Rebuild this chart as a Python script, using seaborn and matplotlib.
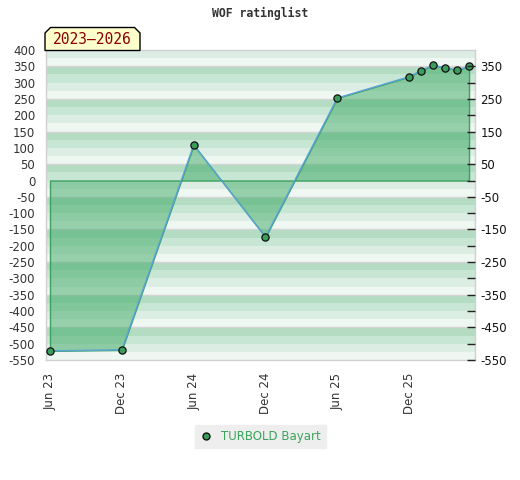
import pandas as pd
import seaborn as sns
import matplotlib.pyplot as plt
from matplotlib.lines import Line2D
from matplotlib.patches import Polygon
from matplotlib.ticker import MultipleLocator, FixedLocator

# -----------------------------------
# DATA
# -----------------------------------

months = ["2023-06", "2023-12", "2024-06", "2024-12", "2025-06",
          "2025-12", "2026-01", "2026-02", "2026-03", "2026-04", "2026-05"]
ratings = [-522, -519, 109, -173, 253, 318, 337, 353, 346, 338, 350]
player = "TURBOLD Bayart"

tick_months = ["2023-06", "2023-12", "2024-06", "2024-12", "2025-06", "2025-12"]
tick_labels = ["Jun 23", "Dec 23", "Jun 24", "Dec 24", "Jun 25", "Dec 25"]

period_label = "2023\u20132026"
title = "WOF ratinglist"

# month offset from the first entry
start = pd.Period(months[0], freq="M")
def month_pos(m):
    return (pd.Period(m, freq="M") - start).n

df = pd.DataFrame({"x": [month_pos(m) for m in months], "rating": ratings})
tick_pos = [month_pos(m) for m in tick_months]

# -----------------------------------
# STYLE
# -----------------------------------

sns.set_style("white")
plt.rcParams["font.family"] = ["DejaVu Sans"]
plt.rcParams["axes.unicode_minus"] = False

W, H = 520, 480
fig = plt.figure(figsize=(W / 100, H / 100), dpi=100)
ax = fig.add_axes([45.7 / W, 1 - 360 / H, (475 - 45.7) / W, (360 - 50) / H])

ymin, ymax = -550, 400
ax.set_ylim(ymin, ymax)
ax.set_xlim(-0.36, 35.5)

# striped background, 25-unit bands with a 100-unit period
stripe_cols = ["#b3dcc3", "#c8e6d4", "#dcede3", "#eff7f2"]
top = ymax
while top > ymin:
    k = ((350 - top) // 25) % 4
    ax.axhspan(top - 25, top, color=stripe_cols[k], lw=0, zorder=0)
    top -= 25
for v in range(350, ymin, -100):
    ax.axhline(v, color="#d4d4d4", lw=1, zorder=0.5)

# -----------------------------------
# AREA + LINE
# -----------------------------------

ax.fill_between(df["x"], 0, df["rating"],
                facecolor=(61 / 255, 170 / 255, 101 / 255, 0.5),
                edgecolor="#3ca05e", linewidth=1, zorder=1)

sns.lineplot(data=df, x="x", y="rating", ax=ax, color="#5ba3d9", lw=1.0,
             marker="o", markersize=5.2, markerfacecolor="#3a9d5b",
             markeredgecolor="#111111", markeredgewidth=0.9, zorder=3)

# -----------------------------------
# AXES
# -----------------------------------

ax.yaxis.set_major_locator(MultipleLocator(50))
ax.tick_params(axis="y", length=0, pad=7.5, labelsize=8.5, labelcolor="#333333")
ax.set_xticks(tick_pos)
ax.set_xticklabels(tick_labels, rotation=90)
ax.tick_params(axis="x", length=0, pad=9, labelsize=8.5, labelcolor="#333333")
ax.set_xlabel("")
ax.set_ylabel("")
for s in ax.spines.values():
    s.set_color("#d0d0d0")
    s.set_linewidth(1)

ax2 = ax.twinx()
ax2.set_ylim(ymin, ymax)
ax2.yaxis.set_major_locator(FixedLocator(list(range(350, ymin - 1, -100))))
ax2.yaxis.set_minor_locator(FixedLocator(list(range(300, ymin, -100))))
ax2.tick_params(axis="y", which="both", direction="in", length=6, width=1,
                color="#222222", pad=4, labelsize=8.5, labelcolor="#111111")
for s in ax2.spines.values():
    s.set_visible(False)

# -----------------------------------
# TITLE, BADGE, LEGEND
# -----------------------------------

fig.text(260 / W, 1 - 13 / H, title, ha="center", va="center",
         family="DejaVu Sans Mono", fontweight="bold", fontsize=8.3,
         color="#333333")

badge = [(45, 50.5), (45, 33), (50.5, 27.5), (134.5, 27.5), (140, 33), (140, 50.5)]
fig.patches.append(Polygon([(x / W, 1 - y / H) for x, y in badge], closed=True,
                           transform=fig.transFigure, facecolor="#ffffcc",
                           edgecolor="black", lw=1, zorder=5))
fig.text(92.5 / W, 1 - 40 / H, period_label, ha="center", va="center",
         family="DejaVu Sans Mono", fontsize=10.5, color="#8b0000", zorder=6)

handle = Line2D([], [], ls="", marker="o", markersize=5,
                markerfacecolor="#3a9d5b", markeredgecolor="#111111")
leg = ax.legend([handle], [player], loc="center",
                bbox_to_anchor=(260.5 / W, 1 - 436.5 / H),
                bbox_transform=fig.transFigure, frameon=True, fancybox=False,
                facecolor="#eeeeee", edgecolor="#eeeeee", framealpha=1,
                fontsize=8.5, handlelength=1.0, handletextpad=0.8,
                borderpad=0.45)
for t in leg.get_texts():
    t.set_color("#3aa55a")

plt.savefig("out.png", dpi=100)
